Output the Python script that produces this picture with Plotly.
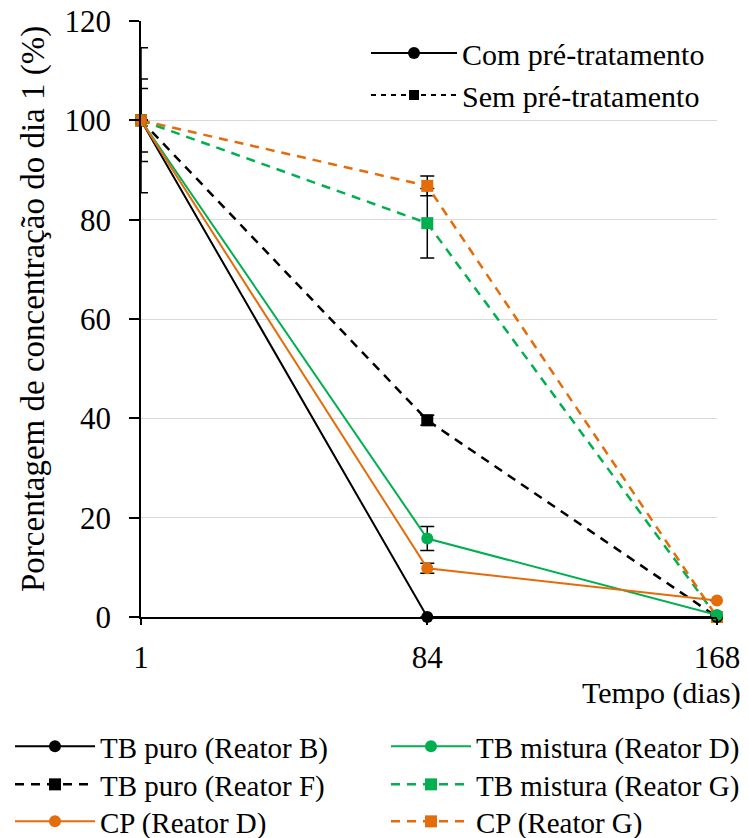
import plotly.graph_objects as go

days = [1, 84, 168]

names = ["TB puro (Reator B)", "TB mistura (Reator D)", "TB puro (Reator F)",
         "TB mistura (Reator G)", "CP (Reator D)", "CP (Reator G)"]
tb_puro_B = [100, 0, 0]
tb_mist_D = [100, 15.8, 0.4]
tb_puro_F = [100, 39.6, 0]
tb_mist_G = [100, 79.3, 0]
cp_D = [100, 9.8, 3.3]
cp_G = [100, 86.8, 0]

err_tb_puro_B = [0, 0, 0]
err_tb_mist_D = [6.4, 2.4, 0]
err_tb_puro_F = [8.3, 1.0, 0]
err_tb_mist_G = [14.6, 7.0, 0]
err_cp_D = [0, 1.0, 0]
err_cp_G = [0, 2.0, 0]

BLACK = "#000000"
GREEN = "#00B050"
ORANGE = "#E46C0A"

# (name, values, errors, colour, dash, symbol, legend slot)
series = [
    (names[0], tb_puro_B, err_tb_puro_B, BLACK, "solid", "circle", "legend"),
    (names[1], tb_mist_D, err_tb_mist_D, GREEN, "solid", "circle", "legend3"),
    (names[2], tb_puro_F, err_tb_puro_F, BLACK, "dash", "square", "legend4"),
    (names[3], tb_mist_G, err_tb_mist_G, GREEN, "dash", "square", "legend5"),
    (names[4], cp_D, err_cp_D, ORANGE, "solid", "circle", "legend6"),
    (names[5], cp_G, err_cp_G, ORANGE, "dash", "square", "legend7"),
]

FONT = "Liberation Serif"
fig = go.Figure()

draw_order = [2, 3, 5, 0, 1, 4]
for i in draw_order:
    name, y, err, col, dash, sym, leg = series[i]
    fig.add_trace(go.Scatter(
        x=days, y=y, name=name, mode="lines+markers",
        line=dict(color=col, width=2.5 if dash == "dash" else 2,
                  dash="9px,7px" if dash == "dash" else "solid"),
        marker=dict(color=col, size=12, symbol=sym),
        error_y=dict(type="data", array=err, visible=True, color=BLACK,
                     thickness=1.5, width=7),
        cliponaxis=False, legend=leg,
    ))

fig.add_trace(go.Scatter(x=[None], y=[None], mode="lines+markers",
                         name="Com pré-tratamento",
                         line=dict(color=BLACK, width=2),
                         marker=dict(color=BLACK, size=12, symbol="circle"),
                         legend="legend2"))
fig.add_trace(go.Scatter(x=[None], y=[None], mode="lines+markers",
                         name="Sem pré-tratamento",
                         line=dict(color=BLACK, width=2, dash="5px,5px"),
                         marker=dict(color=BLACK, size=10, symbol="square"),
                         legend="legend2"))

# body margin is removed in the page, so figure pixels == page pixels
W, H = 749, 838
L, T = 141, 21
R = W - 717
B = H - 617
pw = W - L - R
ph = H - T - B


def fx(xpage):
    return (xpage - L) / pw


def fy(ypage):
    return (H - B - ypage) / ph


leg_font = dict(family=FONT, size=29, color=BLACK)
common_leg = dict(orientation="v", xanchor="left", yanchor="top",
                  font=leg_font, itemwidth=80, tracegroupgap=0,
                  bgcolor="rgba(255,255,255,0)", traceorder="normal")

# bottom legend grid: rows at page y 748, 786, 823; columns at page x 10, 386
row_tops = [748 - 27, 786 - 27, 823 - 27]
col_lefts = [10, 386]
slots = {"legend": (0, 0), "legend3": (0, 1), "legend4": (1, 0),
         "legend5": (1, 1), "legend6": (2, 0), "legend7": (2, 1)}
legends = {k: dict(x=fx(col_lefts[c]), y=fy(row_tops[r]), **common_leg)
           for k, (r, c) in slots.items()}

leg2 = dict(common_leg)
leg2["itemwidth"] = 86
leg2["font"] = dict(family=FONT, size=30, color=BLACK)

fig.update_layout(
    width=W, height=H,
    margin=dict(l=L, r=R, t=T, b=B, autoexpand=False),
    paper_bgcolor="white", plot_bgcolor="white",
    font=dict(family=FONT, size=30, color=BLACK),
    showlegend=True,
    legend2=dict(x=fx(366), y=fy(27), **leg2),
    xaxis=dict(range=[1, 168], tickmode="array", tickvals=days,
               ticktext=[str(d) for d in days],
               showgrid=False, zeroline=False, showline=True,
               linecolor=BLACK, linewidth=1.5, ticks="outside", ticklen=6,
               tickcolor=BLACK, tickwidth=1.5, ticklabelstandoff=6,
               ticklabeloverflow="allow",
               tickfont=dict(family=FONT, size=31, color=BLACK)),
    yaxis=dict(range=[0, 120], tickmode="linear", tick0=0, dtick=20,
               showgrid=True, gridcolor="#D9D9D9", gridwidth=1.3,
               zeroline=False, showline=True, linecolor=BLACK, linewidth=1.5,
               ticks="outside", ticklen=10, tickcolor=BLACK, tickwidth=1.5,
               ticklabelstandoff=12, ticklabeloverflow="allow",
               tickfont=dict(family=FONT, size=31, color=BLACK)),
    annotations=[
        dict(text="Porcentagem de concentração do dia 1 (%)", textangle=-90,
             xref="paper", yref="paper", x=fx(33), y=fy(309),
             xanchor="center", yanchor="middle", showarrow=False,
             font=dict(family=FONT, size=33, color=BLACK)),
        dict(text="Tempo (dias)", xref="paper", yref="paper",
             x=fx(743), y=fy(693),
             xanchor="right", yanchor="middle", showarrow=False,
             font=dict(family=FONT, size=30, color=BLACK)),
    ],
)
fig.update_layout(**legends)

fig.write_html("out.html",
               config={"displayModeBar": False},
               post_script="document.body.style.margin='0px';"
                           "document.body.style.overflow='hidden';")
